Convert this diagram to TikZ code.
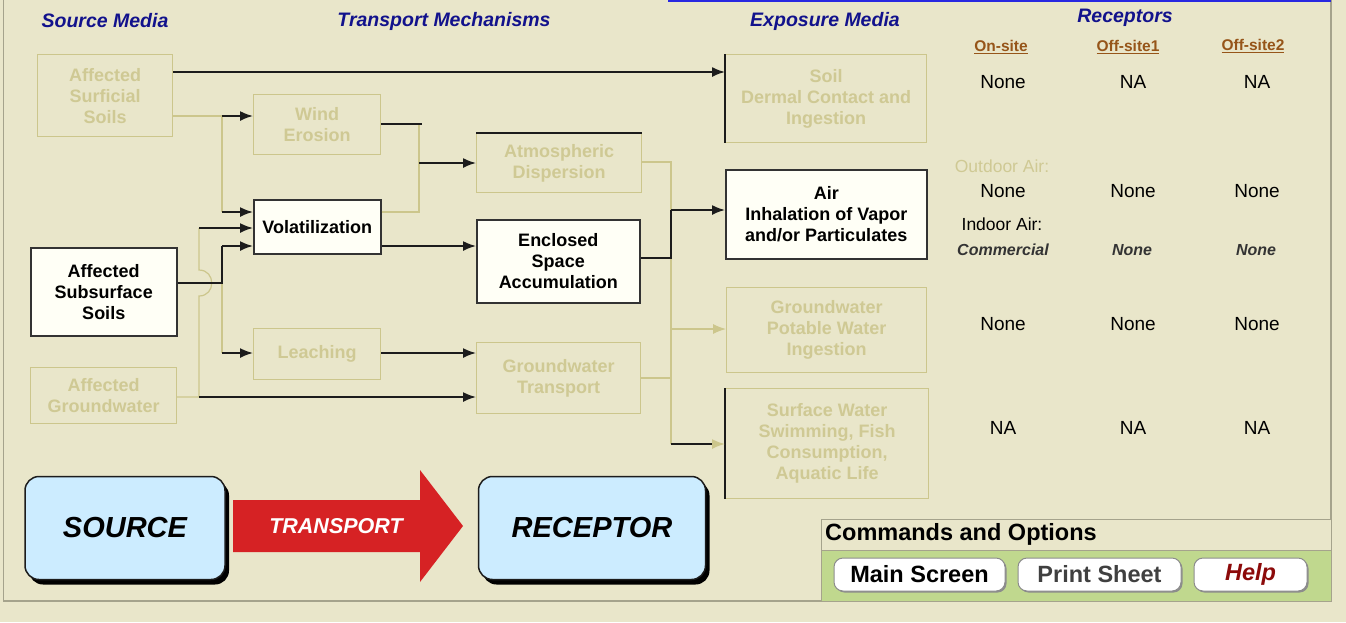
\documentclass[tikz,border=0pt]{standalone}
\usepackage{fontspec}
\setmainfont{Liberation Sans}
\usetikzlibrary{arrows.meta,shadows}

\definecolor{panel}{RGB}{233,230,202}
\definecolor{dimline}{RGB}{204,198,140}
\definecolor{dimtext}{RGB}{207,201,148}
\definecolor{ink}{RGB}{28,28,28}
\definecolor{navy}{RGB}{18,18,140}
\definecolor{rust}{RGB}{150,85,25}
\definecolor{ivory}{RGB}{255,255,246}
\definecolor{skyfill}{RGB}{204,236,255}
\definecolor{flagred}{RGB}{214,34,36}
\definecolor{leaf}{RGB}{192,216,142}
\definecolor{frame}{RGB}{165,163,140}
\definecolor{helpred}{RGB}{140,10,10}
\definecolor{topblue}{RGB}{40,40,225}

\newcommand\boxfont{\fontsize{18}{21}\selectfont\bfseries}
\newcommand\headfont{\fontsize{19.5}{22}\selectfont\bfseries\itshape}
\newcommand\colfont{\fontsize{15.5}{18}\selectfont\bfseries}
\newcommand\cellfont{\fontsize{19}{22}\selectfont}
\newcommand\labelfont{\fontsize{17.5}{20}\selectfont}
\newcommand\notefont{\fontsize{16}{18}\selectfont\bfseries\itshape}
\newcommand\bigfont{\fontsize{29}{32}\selectfont\bfseries\itshape}
\newcommand\arrowfont{\fontsize{21.5}{24}\selectfont\bfseries\itshape}
\newcommand\cmdfont{\fontsize{23.5}{26}\selectfont\bfseries}
\newcommand\ulined[1]{\setbox0=\hbox{#1}\rlap{\rule[-3pt]{\wd0}{1.6pt}}\box0}

\tikzset{
	dimbox/.style={draw=dimline, line width=1.2pt, text=dimtext, font=\boxfont, align=center, inner sep=0pt, anchor=north west},
	litbox/.style={draw=ink!90, fill=ivory, line width=1.5pt, text=black, font=\boxfont, align=center, inner sep=0pt, anchor=north west},
	wire/.style={draw=ink, line width=1.7pt},
	flow/.style={wire, -{Latex[length=13pt,width=10pt]}},
	dimwire/.style={draw=dimline, line width=1.2pt},
	dimflow/.style={dimwire, -{Latex[length=13pt,width=10pt]}},
	head/.style={font=\headfont, text=navy, inner sep=0pt},
	colhead/.style={font=\colfont, text=rust, inner sep=0pt},
	cell/.style={font=\cellfont, text=black, inner sep=0pt},
	note/.style={font=\notefont, text=black!80, inner sep=0pt},
	bigbox/.style={draw=ink, fill=skyfill, line width=1.5pt, rounded corners=14pt, font=\bigfont, inner sep=0pt,
		drop shadow={shadow xshift=4pt, shadow yshift=-5pt, fill=black, opacity=1}},
	button/.style={draw=black!45, fill=white, line width=1pt, rounded corners=9pt, inner sep=0pt, minimum height=33pt,
		font=\cmdfont, drop shadow={shadow xshift=1.5pt, shadow yshift=-1.5pt, fill=black!45, opacity=1}}
}

\begin{document}
\begin{tikzpicture}[x=1pt,y=-1pt]
	\useasboundingbox (0,0) rectangle (1346,622);
	\fill[panel] (0,0) rectangle (1346,622);
	\draw[frame, line width=1.5pt] (3.5,0) -- (3.5,601) -- (1331,601) -- (1331,0);
	\draw[topblue, line width=2pt] (668,1) -- (1331,1);

	\node[head] (hsrc) at (105,21) {Source Media};
	\node[head] (htrn) at (444,21) {Transport Mechanisms};
	\node[head] (hexp) at (825,21) {Exposure Media};
	\node[head] (hrec) at (1125,18) {Receptors};

	\node[dimbox, minimum width=135pt, minimum height=82pt] (surf) at (37,54) {Affected\\Surficial\\Soils};
	\node[litbox, minimum width=146pt, minimum height=88pt] (sub) at (30,247) {Affected\\Subsurface\\Soils};
	\node[dimbox, minimum width=146pt, minimum height=56pt] (gw) at (30,367) {Affected\\Groundwater};
	\node[dimbox, minimum width=127pt, minimum height=60pt] (wind) at (253,94) {Wind\\Erosion};
	\node[litbox, minimum width=127pt, minimum height=54pt] (vol) at (253,199) {Volatilization};
	\node[dimbox, minimum width=127pt, minimum height=51pt] (leach) at (253,328) {Leaching};
	\node[dimbox, minimum width=165pt, minimum height=59pt] (atm) at (476,133) {Atmospheric\\Dispersion};
	\node[litbox, minimum width=163pt, minimum height=83pt] (encl) at (476,219) {Enclosed\\Space\\Accumulation};
	\node[dimbox, minimum width=164pt, minimum height=71pt] (gwt) at (476,342) {Groundwater\\Transport};
	\node[dimbox, minimum width=201pt, minimum height=88pt] (soil) at (725,54) {Soil\\Dermal Contact and\\Ingestion};
	\node[litbox, minimum width=201pt, minimum height=89pt] (air) at (725,169) {Air\\Inhalation of Vapor\\and/or Particulates};
	\node[dimbox, minimum width=200pt, minimum height=85pt] (drink) at (726,287) {Groundwater\\Potable Water\\Ingestion};
	\node[dimbox, minimum width=203pt, minimum height=110pt] (swim) at (725,388) {Surface Water\\Swimming, Fish\\Consumption,\\Aquatic Life};

	\draw[wire, line width=1.2pt] (atm.north west) -- (atm.north east);
	\draw[wire, line width=1.2pt] (soil.north west) -- (soil.south west);
	\draw[wire, line width=1.2pt] (swim.north west) -- (swim.south west);

	\coordinate (s1) at (222,116);
	\coordinate (s2) at (222,212);
	\coordinate (u1) at (222,283);
	\coordinate (u2) at (222,246);
	\coordinate (u3) at (222,353);
	\coordinate (g1) at (199,397);
	\coordinate (g2) at (199,228);
	\coordinate (j1) at (199,296);
	\coordinate (j2) at (199,270);
	\coordinate (w1) at (422,124);
	\coordinate (w2) at (419,124);
	\coordinate (w3) at (419,212);
	\coordinate (w4) at (419,163);
	\coordinate (e1) at (671,162);
	\coordinate (e2) at (671,444);
	\coordinate (e3) at (671,258);
	\coordinate (e4) at (671,210);
	\coordinate (e5) at (671,329);
	\coordinate (e6) at (671,378);

	\draw[dimwire] (surf.east |- s1) -- (s1) -- (s2);
	\draw[dimwire] (u1) -- (u3);
	\draw[dimwire] (gw.east |- g1) -- (g1) -- (j1) .. controls (216,296) and (216,270) .. (j2) -- (g2);
	\draw[dimwire] (vol.east |- w3) -- (w3) -- (w2);
	\draw[dimwire] (atm.east |- e1) -- (e1) -- (e2);
	\draw[dimwire] (gwt.east |- e6) -- (e6);

	\draw[flow] ([yshift=-18pt]surf.north east) -- ([yshift=-18pt]soil.north west);
	\draw[flow] (s1) -- (wind.west |- s1);
	\draw[flow] (s2) -- (vol.west |- s2);
	\draw[wire] (sub.east |- u1) -- (u1) -- (u2);
	\draw[flow] (u2) -- (vol.west |- u2);
	\draw[flow] (g2) -- (vol.west |- g2);
	\draw[flow] (u3) -- (leach.west |- u3);
	\draw[flow] (g1) -- (gwt.west |- g1);
	\draw[wire] (wind.east |- w1) -- (w1);
	\draw[flow] (w4) -- (atm.west |- w4);
	\draw[flow] (vol.east |- u2) -- (encl.west |- u2);
	\draw[flow] (leach.east |- u3) -- (gwt.west |- u3);
	\draw[wire] (encl.east |- e3) -- (e3) -- (e4);
	\draw[flow] (e4) -- (air.west |- e4);
	\draw[dimflow] (e5) -- (drink.west |- e5);
	\draw[wire, -{Latex[length=13pt,width=10pt,color=dimline]}] (e2) -- (swim.west |- e2);

	\node[colhead] (on) at (1001,47) {\ulined{On-site}};
	\node[colhead] (off1) at (1128,47) {\ulined{Off-site1}};
	\node[colhead] (off2) at (1253,46) {\ulined{Off-site2}};
	\node[cell] (r11) at (1003,82) {None};
	\node[cell] (r12) at (1133,82) {NA};
	\node[cell] (r13) at (1257,82) {NA};
	\node[cell, font=\labelfont, text=dimtext] (outdoor) at (1002,166) {Outdoor Air:};
	\node[cell] (r21) at (1003,191) {None};
	\node[cell] (r22) at (1133,191) {None};
	\node[cell] (r23) at (1257,191) {None};
	\node[cell, font=\labelfont] (indoor) at (1002,224) {Indoor Air:};
	\node[note] (r31) at (1003,250) {Commercial};
	\node[note] (r32) at (1132,250) {None};
	\node[note] (r33) at (1256,250) {None};
	\node[cell] (r41) at (1003,324) {None};
	\node[cell] (r42) at (1133,324) {None};
	\node[cell] (r43) at (1257,324) {None};
	\node[cell] (r51) at (1003,428) {NA};
	\node[cell] (r52) at (1133,428) {NA};
	\node[cell] (r53) at (1257,428) {NA};

	\node[bigbox, minimum width=200pt, minimum height=103pt] (src) at (125,528) {SOURCE};
	\node[bigbox, minimum width=227pt, minimum height=103pt] (rec) at (592,528) {RECEPTOR};
	\fill[flagred] (233,500) -- (420,500) -- (420,470) -- (463,526) -- (420,582) -- (420,552) -- (233,552) -- cycle;
	\node[font=\arrowfont, text=white, inner sep=0pt] (trn) at (336,526) {TRANSPORT};

	\draw[frame, fill=panel, line width=1pt] (821,519) rectangle (1331,550);
	\draw[frame, fill=leaf, line width=1pt] (821,550) rectangle (1331,601);
	\node[anchor=west, font=\cmdfont, inner sep=0pt] (cmd) at (825,534) {Commands and Options};
	\node[button, minimum width=171pt] (mainbtn) at (919.5,574.5) {Main Screen};
	\node[button, minimum width=163pt, text=black!75] (printbtn) at (1099.5,574.5) {Print Sheet};
	\node[button, minimum width=113pt, text=helpred, font=\cmdfont\itshape] (helpbtn) at (1250.5,574.5) {Help};
\end{tikzpicture}
\end{document}
